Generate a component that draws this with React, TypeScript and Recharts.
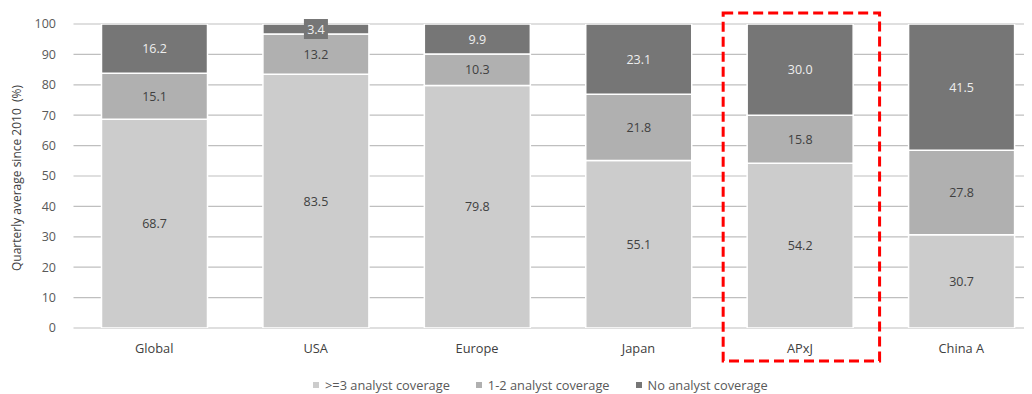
import React from "react";
import {
  BarChart,
  Bar,
  XAxis,
  YAxis,
  CartesianGrid,
  LabelList,
  Legend,
  Label,
  ReferenceArea,
} from "recharts";

// Regions and the share of stocks in each analyst-coverage bucket (%)
const regions = ["Global", "USA", "Europe", "Japan", "APxJ", "China A"];
const threePlus = [68.7, 83.5, 79.8, 55.1, 54.2, 30.7];
const oneToTwo = [15.1, 13.2, 10.3, 21.8, 15.8, 27.8];
const noCoverage = [16.2, 3.4, 9.9, 23.1, 30.0, 41.5];
const yTicks = [0, 10, 20, 30, 40, 50, 60, 70, 80, 90, 100];
const highlighted = "APxJ";

const seriesNames = [">=3 analyst coverage", "1-2 analyst coverage", "No analyst coverage"];
const seriesColors = ["#cccccc", "#b0b0b0", "#767676"];
const labelColors = ["#404040", "#404040", "#eeeeee"];

const data = regions.map((region, i) => ({
  region,
  threePlus: threePlus[i],
  oneToTwo: oneToTwo[i],
  noCoverage: noCoverage[i],
}));

const FONT = "'Open Sans', 'Noto Sans', sans-serif";

const makeLabel = (seriesIndex: number) => (props: any) => {
  const { x, y, width, height, value } = props;
  if (value == null) return null;
  const cx = Number(x) + Number(width) / 2;
  const cy = Number(y) + Number(height) / 2;
  const small = Math.abs(Number(height)) < 14;
  return (
    <g>
      {small && (
        <rect x={cx - 12} y={cy - 10} width={24} height={20} fill={seriesColors[seriesIndex]} />
      )}
      <text
        x={cx}
        y={cy}
        textAnchor="middle"
        dominantBaseline="central"
        fill={labelColors[seriesIndex]}
        fontSize={12.5}
        fontFamily={FONT}
      >
        {Number(value).toFixed(1)}
      </text>
    </g>
  );
};

const HighlightBox = (props: any) => {
  const { x, y, width, height } = props;
  return (
    <rect
      x={x + 4}
      y={y - 11}
      width={width - 5}
      height={height + 44}
      fill="none"
      stroke="#ff0000"
      strokeWidth={3}
      strokeDasharray="10 5"
    />
  );
};

// Legend items in series order
const LegendContent = () => (
  <div
    style={{
      display: "flex",
      alignItems: "center",
      height: 20,
      paddingLeft: 305,
      fontFamily: FONT,
      fontSize: 12.8,
      color: "#595959",
    }}
  >
    {seriesNames.map((name, i) => (
      <div key={name} style={{ display: "flex", alignItems: "center", marginRight: 26 }}>
        <span
          style={{
            display: "inline-block",
            width: 6,
            height: 6,
            background: seriesColors[i],
            marginRight: 6,
          }}
        />
        <span style={{ whiteSpace: "pre" }}>{name}</span>
      </div>
    ))}
  </div>
);

const YTitle = (props: any) => {
  const vb = props.viewBox || {};
  const cy = vb.y + vb.height / 2 + 2;
  const cx = 8;
  return (
    <text
      x={cx}
      y={cy}
      transform={`rotate(-90, ${cx}, ${cy})`}
      textAnchor="middle"
      dominantBaseline="central"
      fill="#404040"
      fontSize={12}
      fontFamily={FONT}
      style={{ whiteSpace: "pre" }}
    >
      {"Quarterly average since 2010  (%)"}
    </text>
  );
};

export default function App() {
  return (
    <div style={{ width: 1024, height: 386, overflow: "hidden", position: "relative", background: "#fff" }}>
      <BarChart
        width={1034}
        height={386}
        data={data}
        margin={{ top: 16, right: 0, left: 0, bottom: 16 }}
        barSize={106}
      >
        <CartesianGrid vertical={false} stroke="#bfbfbf" strokeWidth={1.2} />
        <XAxis
          dataKey="region"
          axisLine={false}
          tickLine={false}
          tickSize={6}
          tickMargin={10}
          interval={0}
          tick={{ fill: "#404040", fontSize: 12.8, fontFamily: FONT }}
        />
        <YAxis
          width={65.5}
          domain={[0, 100]}
          ticks={yTicks}
          allowDataOverflow
          axisLine={false}
          tickLine={false}
          tickSize={6}
          tickMargin={11.5}
          tick={{ fill: "#595959", fontSize: 12.5, fontFamily: FONT }}
        >
          <Label content={<YTitle />} />
        </YAxis>
        <Legend
          verticalAlign="bottom"
          height={20}
          content={<LegendContent />}
          wrapperStyle={{ top: 367, bottom: "auto", left: 0, width: 1034 }}
        />
        <Bar dataKey="threePlus" name={seriesNames[0]} stackId="a" fill={seriesColors[0]} stroke="#ffffff" strokeWidth={1.5} isAnimationActive={false}>
          <LabelList dataKey="threePlus" content={makeLabel(0)} />
        </Bar>
        <Bar dataKey="oneToTwo" name={seriesNames[1]} stackId="a" fill={seriesColors[1]} stroke="#ffffff" strokeWidth={1.5} isAnimationActive={false}>
          <LabelList dataKey="oneToTwo" content={makeLabel(1)} />
        </Bar>
        <Bar dataKey="noCoverage" name={seriesNames[2]} stackId="a" fill={seriesColors[2]} stroke="#ffffff" strokeWidth={1.5} isAnimationActive={false}>
          <LabelList dataKey="noCoverage" content={makeLabel(2)} />
        </Bar>
        <ReferenceArea x1={highlighted} x2={highlighted} ifOverflow="visible" shape={<HighlightBox />} />
      </BarChart>
    </div>
  );
}
